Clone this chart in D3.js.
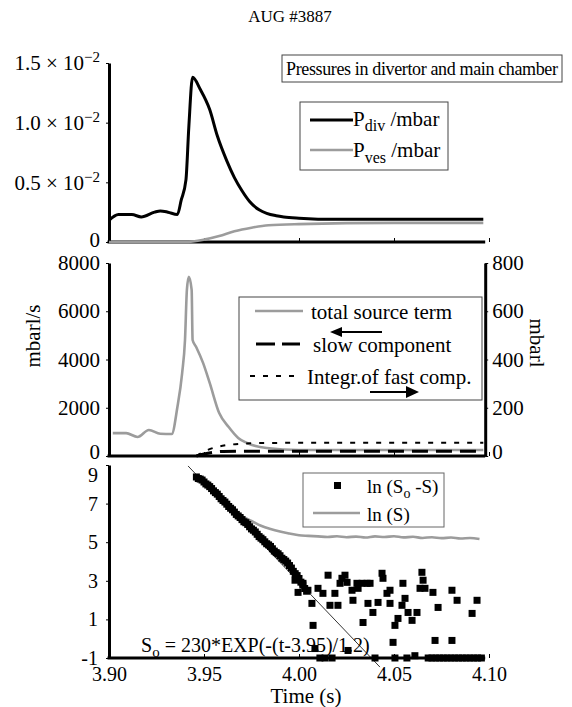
<!DOCTYPE html>
<html>
<head>
<meta charset="utf-8">
<script src="https://cdn.jsdelivr.net/npm/d3@7"></script>
<style>
  body { margin: 0; background: #fff; }
  svg { display: block; }
  svg text { font-family: "Liberation Serif", "Times New Roman", serif !important; fill: #000; }
</style>
</head>
<body>
<svg id="chart" width="572" height="707"></svg>
<script>
// ---- data ----
const title = "AUG #3887";

// top panel: pressures (mbar)
const tDiv = [3.900, 3.905, 3.912, 3.917, 3.924, 3.927, 3.931, 3.936, 3.938, 3.9405, 3.942, 3.944, 3.948, 3.953, 3.957, 3.962, 3.966, 3.970, 3.974, 3.979, 3.983, 3.988, 3.992, 4.000, 4.020, 4.040, 4.060, 4.080, 4.097];
const pDiv = [0.0018, 0.0023, 0.0023, 0.0021, 0.0025, 0.0026, 0.0025, 0.0023, 0.0035, 0.0052, 0.0096, 0.0138, 0.0128, 0.0111, 0.0089, 0.0068, 0.0054, 0.0043, 0.0034, 0.0027, 0.0024, 0.0022, 0.0021, 0.0020, 0.0019, 0.0019, 0.0019, 0.0019, 0.0019];
const tVes = [3.900, 3.920, 3.940, 3.950, 3.958, 3.966, 3.975, 3.984, 4.000, 4.050, 4.097];
const pVes = [0, 0, 0, 0.0002, 0.0005, 0.0009, 0.0012, 0.0014, 0.0015, 0.0016, 0.0016];
const topTicks = [0, 0.005, 0.010, 0.015];
const topMantissa = ["0", "0.5", "1.0", "1.5"];

// middle panel: source terms (mbarl/s, left) and integral (mbarl, right)
const tSrc = [3.902, 3.909, 3.915, 3.921, 3.927, 3.933, 3.936, 3.9385, 3.940, 3.941, 3.942, 3.9435, 3.944, 3.946, 3.9495, 3.953, 3.958, 3.963, 3.968, 3.9726, 3.983, 4.000, 4.050, 4.097];
const srcTotal = [950, 950, 790, 1080, 920, 910, 2030, 3440, 4810, 6890, 7430, 6890, 4810, 4500, 3860, 3030, 1780, 1200, 750, 540, 330, 250, 250, 250];
const tSlow = [3.946, 3.950, 3.955, 3.960, 3.970, 4.000, 4.050, 4.097];
const srcSlow = [0, 80, 150, 190, 200, 200, 200, 200];
const tFast = [3.946, 3.952, 3.957, 3.962, 3.968, 3.975, 3.985, 4.000, 4.050, 4.097];
const intFast = [0, 25, 38, 45, 50, 53, 54, 55, 55, 55];
const midTicks = [0, 2000, 4000, 6000, 8000];
const midTicksR = [0, 200, 400, 600, 800];

// bottom panel: ln(So-S) points and ln(S)
const tLnDiff = [3.946, 3.947, 3.948, 3.949, 3.950, 3.951, 3.952, 3.953, 3.954, 3.955, 3.956, 3.957, 3.958, 3.959, 3.960, 3.961, 3.962, 3.963, 3.964, 3.965, 3.966, 3.967, 3.968, 3.969, 3.970, 3.971, 3.972, 3.973, 3.974, 3.975, 3.976, 3.977, 3.978, 3.979, 3.980, 3.981, 3.982, 3.983, 3.984, 3.985, 3.986, 3.987, 3.988, 3.989, 3.990, 3.991, 3.992, 3.993, 3.994, 3.995, 3.996, 3.997, 3.998, 3.999, 4.000, 4.001, 4.002, 4.003, 4.004,
  3.9979, 4.0021, 3.9995, 4.0047, 4.0068, 4.0074, 4.0084, 4.0100, 4.0126, 4.0153, 4.0163, 4.0189, 4.0205, 4.0216, 4.0226, 4.0242, 4.0253, 4.0258, 4.0279, 4.0284, 4.0305, 4.0311, 4.0332, 4.0337, 4.0358, 4.0363, 4.0374, 4.0389, 4.0416, 4.0437, 4.0442, 4.0463, 4.0479, 4.0479, 4.0495, 4.0505, 4.0521, 4.0542, 4.0547, 4.0558, 4.0574, 4.0595, 4.0621, 4.0637, 4.0647, 4.0653, 4.0663, 4.0705, 4.0716, 4.0732, 4.0805, 4.0805, 4.0832, 4.0911, 4.0937,
  4.0110, 4.0137, 4.0174, 4.0400, 4.0505, 4.0568, 4.0610, 4.068, 4.070, 4.072, 4.074, 4.076, 4.078, 4.080, 4.082, 4.084, 4.086, 4.088, 4.090, 4.092, 4.094, 4.096];
const lnDiff = [8.38, 8.30, 8.27, 8.22, 8.12, 8.02, 7.96, 7.88, 7.78, 7.66, 7.57, 7.49, 7.37, 7.25, 7.16, 7.08, 6.97, 6.85, 6.76, 6.68, 6.56, 6.44, 6.36, 6.28, 6.17, 6.06, 6.01, 5.92, 5.80, 5.69, 5.62, 5.53, 5.41, 5.29, 5.21, 5.13, 5.02, 4.92, 4.86, 4.78, 4.66, 4.54, 4.46, 4.40, 4.30, 4.17, 4.10, 4.02, 3.92, 3.79, 3.66, 3.49, 3.37, 3.27, 3.12, 2.93, 2.78, 2.60, 2.46,
  3.03, 2.87, 2.40, 2.51, 1.83, 0.69, -0.51, 2.61, 2.35, 3.29, 1.73, 2.35, 1.73, 2.87, 3.13, 3.29, 2.92, -0.61, 2.51, 1.99, 2.87, 2.61, 2.87, 0.84, 2.87, 1.83, 2.87, 1.36, 1.88, 3.39, 3.13, 2.35, 2.51, 1.83, -0.19, 0.69, 1.05, 1.73, 2.87, 2.09, 1.36, 0.95, 1.36, 2.61, 3.44, 3.03, 2.61, 2.40, -0.09, 1.62, 2.51, -0.09, 1.99, 1.31, 1.99,
  -1, -1, -1, -1, -1, -1, -0.88, -1, -1, -1, -1, -1, -1, -1, -1, -1, -1, -1, -1, -1, -1, -1];
const tLnS = [3.946, 3.950, 3.955, 3.960, 3.965, 3.970, 3.975, 3.980, 3.985, 3.990, 3.995, 4.000, 4.005, 4.010, 4.015, 4.020, 4.025, 4.030, 4.035, 4.040, 4.045, 4.050, 4.055, 4.060, 4.065, 4.070, 4.075, 4.080, 4.085, 4.090, 4.095];
const lnS = [8.38, 8.12, 7.75, 7.25, 6.70, 6.35, 6.10, 5.85, 5.68, 5.55, 5.45, 5.36, 5.33, 5.30, 5.27, 5.31, 5.26, 5.29, 5.24, 5.30, 5.27, 5.31, 5.25, 5.28, 5.22, 5.26, 5.21, 5.24, 5.19, 5.22, 5.17];
const tFit = [3.9416, 4.0426];
const lnFit = [8.95, -1.47];
const botTicks = [-1, 1, 3, 5, 7, 9];
const xTicks = [3.90, 3.95, 4.00, 4.05, 4.10];

// ---- scales ----
const svg = d3.select("#chart");
const x = d3.scaleLinear().domain([3.90, 4.10]).range([109, 489]);
const xEnd = x(4.098);
const yTop = d3.scaleLinear().domain([0, 0.015]).range([242, 63]);
const yMid = d3.scaleLinear().domain([0, 8000]).range([456, 263]);
const yMidR = d3.scaleLinear().domain([0, 800]).range([456, 263]);
const yBot = d3.scaleLinear().domain([-1, 9]).range([658, 465]);

const grey = "#9c9c9c";
const zip = (a, b) => a.map((v, i) => [v, b[i]]);

// title
svg.append("text").attr("x", 290).attr("y", 22).attr("text-anchor", "middle")
  .attr("font-size", 17).text(title);

// ---- axes helpers ----
function styleAxis(g, size) {
  g.attr("font-family", null).attr("font-size", size);
  g.select(".domain").attr("stroke", "#000").attr("stroke-width", 3);
  g.selectAll(".tick line").attr("stroke", "#000").attr("stroke-width", 1);
}
function xBaseline(yPos, labels) {
  const g = svg.append("g").attr("transform", `translate(0,${yPos})`)
    .call(d3.axisBottom(x).tickValues(xTicks).tickSizeInner(-4).tickSizeOuter(0).tickPadding(9)
      .tickFormat(labels ? d3.format(".2f") : () => ""));
  g.attr("font-family", null).attr("font-size", 20);
  g.select(".domain").remove();
  g.selectAll(".tick line").attr("stroke", "#000");
  svg.append("line").attr("x1", x(3.90) - 1.5).attr("x2", xEnd).attr("y1", yPos).attr("y2", yPos)
    .attr("stroke", "#000").attr("stroke-width", 3);
  return g;
}

// ---- top panel ----
const gTopY = svg.append("g").attr("transform", `translate(${x(3.90)},0)`)
  .call(d3.axisLeft(yTop).tickValues(topTicks).tickSizeInner(3).tickSizeOuter(0).tickFormat(() => ""));
styleAxis(gTopY, 21);
gTopY.selectAll(".tick").each(function (d, i) {
  const t = d3.select(this).append("text").attr("x", -9).attr("dy", "0.32em")
    .attr("text-anchor", "end").attr("font-size", 21);
  if (d === 0) { t.attr("dy", "0.2em").text(topMantissa[i]); return; }
  t.append("tspan").text(topMantissa[i] + " \u00d7 10");
  t.append("tspan").attr("dy", -8).attr("font-size", 15).text("\u22122");
});
xBaseline(yTop(0), false);

const lineTop = d3.line().x(d => x(d[0])).y(d => yTop(d[1])).curve(d3.curveMonotoneX);
svg.append("path").datum(zip(tVes, pVes)).attr("d", lineTop)
  .attr("fill", "none").attr("stroke", grey).attr("stroke-width", 2.6);
svg.append("path").datum(zip(tDiv, pDiv)).attr("d", lineTop)
  .attr("fill", "none").attr("stroke", "#000").attr("stroke-width", 3);

// header box
svg.append("rect").attr("x", 282).attr("y", 55).attr("width", 280).attr("height", 27)
  .attr("fill", "#fff").attr("stroke", "#444").attr("stroke-width", 1);
svg.append("text").attr("x", 286).attr("y", 75).attr("font-size", 18).attr("textLength", 272)
  .text("Pressures in divertor and main chamber");

// top legend
svg.append("rect").attr("x", 300).attr("y", 102).attr("width", 148).attr("height", 68)
  .attr("fill", "#fff").attr("stroke", "#444").attr("stroke-width", 1);
svg.append("line").attr("x1", 310).attr("x2", 353).attr("y1", 120).attr("y2", 120)
  .attr("stroke", "#000").attr("stroke-width", 3);
svg.append("line").attr("x1", 310).attr("x2", 353).attr("y1", 150).attr("y2", 150)
  .attr("stroke", grey).attr("stroke-width", 2.6);
const lg1 = svg.append("text").attr("x", 353).attr("y", 126).attr("font-size", 21);
lg1.append("tspan").text("P");
lg1.append("tspan").attr("dy", 5).attr("font-size", 16).text("div");
lg1.append("tspan").attr("dy", -5).text(" /mbar");
const lg2 = svg.append("text").attr("x", 353).attr("y", 157).attr("font-size", 21);
lg2.append("tspan").text("P");
lg2.append("tspan").attr("dy", 6).attr("font-size", 16).text("ves");
lg2.append("tspan").attr("dy", -6).text(" /mbar");

// ---- middle panel ----
const gMidY = svg.append("g").attr("transform", `translate(${x(3.90)},0)`)
  .call(d3.axisLeft(yMid).tickValues(midTicks).tickSizeInner(3).tickSizeOuter(0).tickPadding(6)
    .tickFormat(d3.format("d")));
styleAxis(gMidY, 21);
gMidY.selectAll(".tick text").filter(d => d === 0).attr("dy", "0.1em");
const gMidR = svg.append("g").attr("transform", `translate(${xEnd},0)`)
  .call(d3.axisRight(yMidR).tickValues(midTicksR).tickSizeInner(3).tickSizeOuter(0).tickPadding(4)
    .tickFormat(d3.format("d")));
styleAxis(gMidR, 21);
gMidR.selectAll(".tick text").filter(d => d === 0).attr("dy", "0.1em");
xBaseline(yMid(0), false);

svg.append("text").attr("transform", "translate(40,336) rotate(-90)")
  .attr("text-anchor", "middle").attr("font-size", 21).text("mbarl/s");
svg.append("text").attr("transform", "translate(530,343) rotate(90)")
  .attr("text-anchor", "middle").attr("font-size", 21).text("mbarl");

const lineMid = d3.line().x(d => x(d[0])).y(d => yMid(d[1])).curve(d3.curveMonotoneX);
const lineMidR = d3.line().x(d => x(d[0])).y(d => yMidR(d[1])).curve(d3.curveMonotoneX);
svg.append("path").datum(zip(tSrc, srcTotal)).attr("d", lineMid)
  .attr("fill", "none").attr("stroke", grey).attr("stroke-width", 2.6);
svg.append("path").datum(zip(tSlow, srcSlow)).attr("d", lineMid)
  .attr("fill", "none").attr("stroke", "#000").attr("stroke-width", 3).attr("stroke-dasharray", "16,8");
svg.append("path").datum(zip(tFast, intFast)).attr("d", lineMidR)
  .attr("fill", "none").attr("stroke", "#000").attr("stroke-width", 2).attr("stroke-dasharray", "5,8");

// middle legend
svg.append("rect").attr("x", 239).attr("y", 297).attr("width", 243).attr("height", 103)
  .attr("fill", "#fff").attr("stroke", "#444").attr("stroke-width", 1);
svg.append("line").attr("x1", 255).attr("x2", 303).attr("y1", 311).attr("y2", 311)
  .attr("stroke", grey).attr("stroke-width", 2.6);
svg.append("text").attr("x", 311).attr("y", 319).attr("font-size", 21).text("total source term");
svg.append("line").attr("x1", 256).attr("x2", 300).attr("y1", 344).attr("y2", 344)
  .attr("stroke", "#000").attr("stroke-width", 3).attr("stroke-dasharray", "19,7");
svg.append("text").attr("x", 313).attr("y", 352).attr("font-size", 21).text("slow component");
svg.append("line").attr("x1", 250).attr("x2", 299).attr("y1", 376).attr("y2", 376)
  .attr("stroke", "#000").attr("stroke-width", 2).attr("stroke-dasharray", "5,8");
svg.append("text").attr("x", 307).attr("y", 384).attr("font-size", 21).text("Integr.of fast comp.");
// arrows
svg.append("path").attr("d", "M382,331 L342,331 L342,327 L330,332 L342,337 L342,333 L382,333 Z").attr("fill", "#000");
svg.append("path").attr("d", "M370,391 L406,391 L406,386 L419,392 L406,398 L406,393 L370,393 Z").attr("fill", "#000");

// ---- bottom panel ----
const gBotY = svg.append("g").attr("transform", `translate(${x(3.90)},0)`)
  .call(d3.axisLeft(yBot).tickValues(botTicks).tickSizeInner(3).tickSizeOuter(0).tickPadding(8)
    .tickFormat(d => d < 0 ? "-" + Math.abs(d) : String(d)));
styleAxis(gBotY, 20);
gBotY.selectAll(".tick text").filter(d => d === 9).attr("dy", "0.8em");
xBaseline(yBot(-1), true);

svg.append("text").attr("x", 306).attr("y", 703).attr("text-anchor", "middle")
  .attr("font-size", 21).text("Time (s)");

const lineBot = d3.line().x(d => x(d[0])).y(d => yBot(d[1]));
svg.append("path").datum(zip(tLnS, lnS)).attr("d", lineBot.curve(d3.curveMonotoneX))
  .attr("fill", "none").attr("stroke", grey).attr("stroke-width", 2.6);
svg.append("g").selectAll("rect").data(zip(tLnDiff, lnDiff)).enter().append("rect")
  .attr("x", d => x(d[0]) - 3.5).attr("y", d => yBot(d[1]) - 3.5)
  .attr("width", 7).attr("height", 7).attr("fill", "#000");
svg.append("path").datum(zip(tFit, lnFit)).attr("d", d3.line().x(d => x(d[0])).y(d => yBot(d[1])))
  .attr("fill", "none").attr("stroke", "#000").attr("stroke-width", 0.8);

const ann = svg.append("text").attr("x", 141).attr("y", 652).attr("font-size", 20);
ann.append("tspan").text("S");
ann.append("tspan").attr("dy", 5).attr("font-size", 15).text("o");
ann.append("tspan").attr("dy", -5).text(" = 230*EXP(-(t-3.95)/1.2)");

// bottom legend
svg.append("rect").attr("x", 303).attr("y", 473).attr("width", 141).attr("height", 54)
  .attr("fill", "#fff").attr("stroke", "#666").attr("stroke-width", 1);
svg.append("rect").attr("x", 334).attr("y", 482).attr("width", 7).attr("height", 7).attr("fill", "#000");
svg.append("line").attr("x1", 313).attr("x2", 360).attr("y1", 513).attr("y2", 513)
  .attr("stroke", grey).attr("stroke-width", 2.6);
const lg3 = svg.append("text").attr("x", 367).attr("y", 493).attr("font-size", 19);
lg3.append("tspan").text("ln (S");
lg3.append("tspan").attr("dy", 5).attr("font-size", 14).text("o");
lg3.append("tspan").attr("dy", -5).text(" -S)");
svg.append("text").attr("x", 367).attr("y", 521).attr("font-size", 19).text("ln (S)");
</script>
</body>
</html>
